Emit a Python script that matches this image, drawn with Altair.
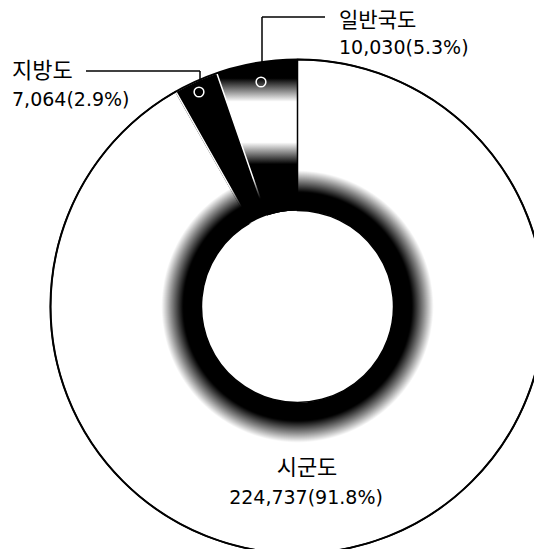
import math
import altair as alt
import pandas as pd

# ---- data ----
names = ["시군도", "지방도", "일반국도"]
lengths = [224737, 7064, 10030]
shares = [91.8, 2.9, 5.3]
order = [0, 1, 2]

df = pd.DataFrame({"name": names, "length": lengths, "share": shares, "ord": order})
df["label"] = [f"{l:,}({s}%)" for l, s in zip(lengths, shares)]
one = pd.DataFrame({"k": [0]})

# ---- layout ----
CX, CY = 289.5, 298.5
R_OUT, R_IN = 247, 96
TAU = 2 * math.pi
KFONT = "Noto Sans CJK KR"
NFONT = "DejaVu Sans"

base = alt.Chart(df).encode(
    theta=alt.Theta("share:Q", stack=True),
    order=alt.Order("ord:Q"),
    x=alt.value(CX),
    y=alt.value(CY),
)

fill_layer = base.mark_arc(innerRadius=R_IN, outerRadius=R_OUT).encode(
    fill=alt.Fill("name:N", scale=alt.Scale(domain=names, range=["white", "black", "black"]), legend=None)
)

band_grad = {
    "gradient": "linear", "x1": 0, "y1": 0, "x2": 0, "y2": 1,
    "stops": [
        {"offset": 0, "color": "black"},
        {"offset": 0.12, "color": "black"},
        {"offset": 0.27, "color": "white"},
        {"offset": 0.53, "color": "white"},
        {"offset": 0.67, "color": "black"},
        {"offset": 1, "color": "black"},
    ],
}
band_layer = base.mark_arc(innerRadius=R_IN, outerRadius=R_OUT, fill=band_grad).encode(
    fillOpacity=alt.condition(alt.datum.name == "일반국도", alt.value(1), alt.value(0))
)

stroke_layer = base.mark_arc(innerRadius=R_IN, outerRadius=R_OUT, fillOpacity=0, strokeWidth=1.5).encode(
    stroke=alt.Stroke("name:N", scale=alt.Scale(domain=names, range=["black", "white", "transparent"]), legend=None)
)

ring_grad = {
    "gradient": "radial", "x1": 0.5, "y1": 0.5, "r1": 0, "x2": 0.5, "y2": 0.5, "r2": 0.5,
    "stops": [
        {"offset": 0, "color": "black"},
        {"offset": 0.84, "color": "black"},
        {"offset": 0.93, "color": "rgba(0,0,0,0.45)"},
        {"offset": 1, "color": "rgba(0,0,0,0)"},
    ],
}
ring_layer = alt.Chart(one).mark_arc(
    theta=0, theta2=TAU, innerRadius=R_IN, outerRadius=136, fill=ring_grad
).encode(x=alt.value(CX), y=alt.value(CY))

outer_layer = alt.Chart(one).mark_arc(
    theta=0, theta2=TAU, innerRadius=0, outerRadius=R_OUT, fillOpacity=0, stroke="black", strokeWidth=2
).encode(x=alt.value(CX), y=alt.value(CY))


def rule(x1, y1, x2, y2):
    return alt.Chart(one).mark_rule(color="black", strokeWidth=1.5).encode(
        x=alt.value(x1), y=alt.value(y1), x2=alt.value(x2), y2=alt.value(y2)
    )


def ring_dot(x, y):
    return alt.Chart(one).mark_point(
        shape="circle", filled=False, stroke="white", strokeWidth=1.5, size=95, opacity=1
    ).encode(x=alt.value(x), y=alt.value(y))


leaders = [
    rule(254, 9, 317, 9), rule(254, 9, 254, 55),
    rule(78, 63, 192, 63), rule(192, 63, 192, 77),
    ring_dot(253, 74), ring_dot(191, 84),
]


def label(name, field, x, y, align, size, font):
    return alt.Chart(df).transform_filter(alt.datum.name == name).mark_text(
        align=align, baseline="middle", font=font, fontSize=size, color="black"
    ).encode(text=f"{field}:N", x=alt.value(x), y=alt.value(y))


texts = [
    label("일반국도", "name", 331, 13, "left", 21, KFONT),
    label("일반국도", "label", 331, 40, "left", 19, NFONT),
    label("지방도", "name", 4, 63, "left", 22, KFONT),
    label("지방도", "label", 4, 92, "left", 19, NFONT),
    label("시군도", "name", 299, 460, "center", 22, KFONT),
    label("시군도", "label", 298, 490, "center", 19, NFONT),
]

chart = alt.layer(
    fill_layer, band_layer, stroke_layer, ring_layer, outer_layer, *leaders, *texts
).properties(
    width=526, height=541, padding=0, autosize=alt.AutoSizeParams(type="none")
).configure_view(stroke=None)

chart.save("out.html", embed_options={"renderer": "svg", "actions": False})
